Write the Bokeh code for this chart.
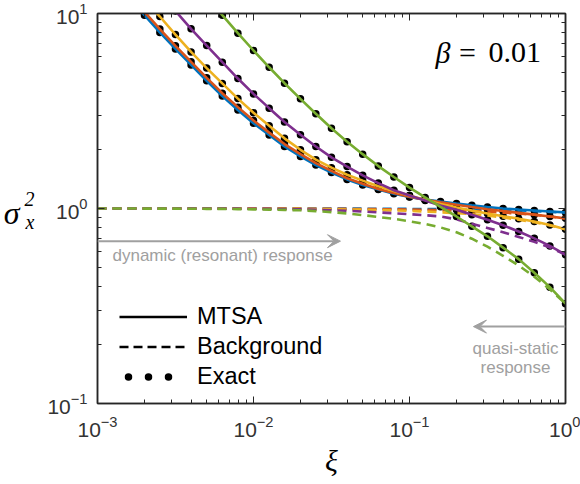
import math
from bokeh.plotting import figure
from bokeh.models import (LogAxis, LogTicker, FixedTicker, Label, Arrow, VeeHead, Legend, LegendItem,
                          CustomJSTickFormatter, LogTickFormatter, Range1d)
from bokeh.embed import file_html
from bokeh.resources import INLINE

nan = float("nan")

# damping ratio grid (log-spaced, 10 per decade)
xi = [0.001, 0.00126, 0.00158, 0.002, 0.00251, 0.00316, 0.00398, 0.00501, 0.00631, 0.00794,
      0.01, 0.0126, 0.0158, 0.02, 0.0251, 0.0316, 0.0398, 0.0501, 0.0631, 0.0794,
      0.1, 0.126, 0.158, 0.2, 0.251, 0.316, 0.398, 0.501, 0.631, 0.794, 1.0]

# MTSA / exact variance (five cases)
var_blue = [nan, nan, 12.1, 9.8, 8.0, 6.58, 5.45, 4.52, 3.77, 3.2, 2.74, 2.38, 2.08, 1.85, 1.67,
            1.53, 1.41, 1.32, 1.25, 1.19, 1.145, 1.11, 1.085, 1.06, 1.038, 1.018, 1.0, 0.988,
            0.977, 0.966, 0.955]
var_red = [nan, nan, 12.6, 10.2, 8.32, 6.83, 5.65, 4.68, 3.9, 3.31, 2.83, 2.45, 2.14, 1.9, 1.71,
           1.56, 1.43, 1.34, 1.26, 1.2, 1.15, 1.11, 1.075, 1.045, 1.017, 0.992, 0.97, 0.95,
           0.93, 0.91, 0.89]
var_yellow = [nan, nan, nan, 11.8, 9.65, 7.8, 6.35, 5.25, 4.38, 3.66, 3.1, 2.66, 2.29, 2.0, 1.78,
              1.62, 1.49, 1.39, 1.3, 1.23, 1.165, 1.105, 1.055, 1.012, 0.975, 0.942, 0.912,
              0.887, 0.858, 0.822, 0.782]
var_purple = [nan, nan, nan, nan, nan, 10.3, 8.35, 6.85, 5.63, 4.64, 3.87, 3.27, 2.78, 2.39, 2.08,
              1.83, 1.64, 1.48, 1.35, 1.24, 1.165, 1.1, 1.035, 0.985, 0.93, 0.875, 0.82, 0.762,
              0.703, 0.643, 0.58]
var_green = [nan, nan, nan, nan, nan, nan, nan, 12.2, 9.8, 7.93, 6.46, 5.3, 4.39, 3.65, 3.06,
             2.58, 2.2, 1.9, 1.65, 1.45, 1.28, 1.14, 1.02, 0.91, 0.81, 0.72, 0.63, 0.55,
             0.468, 0.395, 0.325]

# background (quasi-static) part
bg_blue = [1.0, 1.0, 1.0, 1.0, 1.0, 1.0, 1.0, 1.0, 1.0, 1.0, 1.0, 1.0, 1.0, 1.0, 1.0,
           0.999, 0.998, 0.998, 0.997, 0.996, 0.995, 0.994, 0.992, 0.99, 0.988, 0.985, 0.981,
           0.976, 0.97, 0.961, 0.952]
bg_red = [1.0, 1.0, 1.0, 1.0, 1.0, 1.0, 1.0, 1.0, 1.0, 1.0, 1.0, 0.999, 0.999, 0.998, 0.997,
          0.996, 0.995, 0.994, 0.992, 0.99, 0.988, 0.985, 0.981, 0.976, 0.97, 0.962, 0.953,
          0.942, 0.928, 0.91, 0.89]
bg_yellow = [1.0, 1.0, 1.0, 1.0, 1.0, 1.0, 1.0, 0.999, 0.999, 0.998, 0.998, 0.997, 0.996, 0.995,
             0.993, 0.991, 0.989, 0.986, 0.982, 0.977, 0.972, 0.965, 0.957, 0.947, 0.935, 0.92,
             0.9, 0.875, 0.85, 0.818, 0.782]
bg_purple = [1.0, 1.0, 1.0, 1.0, 1.0, 1.0, 1.0, 1.0, 0.999, 0.998, 0.997, 0.995, 0.993, 0.99,
             0.985, 0.98, 0.973, 0.965, 0.955, 0.945, 0.935, 0.924, 0.91, 0.88, 0.835, 0.795,
             0.756, 0.715, 0.675, 0.63, 0.58]
bg_green = [1.0, 1.0, 1.0, 0.999, 0.999, 0.998, 0.997, 0.996, 0.995, 0.993, 0.99, 0.987, 0.984,
            0.979, 0.97, 0.958, 0.943, 0.925, 0.905, 0.885, 0.86, 0.833, 0.8, 0.755, 0.7,
            0.637, 0.572, 0.51, 0.447, 0.385, 0.325]

series_var = [var_blue, var_red, var_yellow, var_purple, var_green]
series_bg = [bg_blue, bg_red, bg_yellow, bg_purple, bg_green]
colors = ["#0072BD", "#D95319", "#EDB120", "#7E2F8E", "#77AC30"]

legend_labels = ["MTSA", "Background", "Exact"]

# axis ticks
x_major = [0.001, 0.01, 0.1, 1.0]
x_minor = [0.002, 0.003, 0.004, 0.005, 0.006, 0.007, 0.008, 0.009,
           0.02, 0.03, 0.04, 0.05, 0.06, 0.07, 0.08, 0.09,
           0.2, 0.3, 0.4, 0.5, 0.6, 0.7, 0.8, 0.9]
y_major = [0.1, 1.0, 10.0]
y_minor = [0.2, 0.3, 0.4, 0.5, 0.6, 0.7, 0.8, 0.9, 2, 3, 4, 5, 6, 7, 8, 9]

# annotation anchors (data coordinates)
dyn_arrow_x = [0.001, 0.0361]
dyn_arrow_y = 0.68
qs_arrow_x = [1.0, 0.257]
qs_arrow_y = 0.248
# y-title pieces anchored at these heights (sigma, subscript x, superscript 2)
ytitle_sigma_at = [0.943]
ytitle_subsup_at = [0.848, 1.125]

AX = "#262626"
GRAY = "#a0a0a0"

p = figure(width=580, height=484, x_axis_type="log", y_axis_type="log",
           x_range=Range1d(1e-3, 1.0), y_range=Range1d(0.1, 10.0),
           output_backend="svg", toolbar_location=None,
           min_border_left=97, min_border_right=15, min_border_top=13, min_border_bottom=81)
p.xgrid.visible = False
p.ygrid.visible = False
p.background_fill_color = "white"
p.border_fill_color = "white"
p.outline_line_color = AX
p.outline_line_width = 1.5

p.xaxis[0].ticker = FixedTicker(ticks=x_major, minor_ticks=x_minor)
p.yaxis[0].ticker = FixedTicker(ticks=y_major, minor_ticks=y_minor)
for ax in [p.xaxis[0], p.yaxis[0]]:
    ax.formatter = LogTickFormatter()
    ax.axis_line_color = AX
    ax.axis_line_width = 1.5
    ax.major_tick_line_color = AX
    ax.minor_tick_line_color = AX
    ax.major_tick_in = 7
    ax.major_tick_out = 0
    ax.minor_tick_in = 4
    ax.minor_tick_out = 0
    ax.major_label_text_font = "Liberation Sans"
    ax.major_label_text_font_size = "21px"
    ax.major_label_text_color = "#333333"
p.xaxis.major_label_standoff = 12
p.yaxis.major_label_standoff = 10

p.xaxis.axis_label = "ξ"
p.xaxis.axis_label_text_font = "Liberation Serif"
p.xaxis.axis_label_text_font_style = "italic"
p.xaxis.axis_label_text_font_size = "30px"
p.xaxis.axis_label_text_color = "black"
p.xaxis.axis_label_standoff = 4

for side, tk in [("right", y_major), ("above", x_major)]:
    minors = y_minor if side == "right" else x_minor
    extra = LogAxis(ticker=FixedTicker(ticks=tk, minor_ticks=minors),
                    formatter=CustomJSTickFormatter(code="return ''"),
                    axis_line_color=AX, axis_line_width=1.5,
                    major_tick_line_color=AX, minor_tick_line_color=AX,
                    major_tick_in=7, major_tick_out=0, minor_tick_in=4, minor_tick_out=0,
                    major_label_standoff=0, major_label_text_font_size="1px")
    p.add_layout(extra, side)

# y title "sigma_x^2" built from label-only axes on the left
sub_axis = LogAxis(ticker=FixedTicker(ticks=ytitle_subsup_at, minor_ticks=[]),
                   formatter=CustomJSTickFormatter(code="return index == 0 ? 'x' : '2'"),
                   axis_line_color=None, major_tick_line_color=None, minor_tick_line_color=None,
                   major_tick_in=0, major_tick_out=0, minor_tick_in=0, minor_tick_out=0,
                   major_label_standoff=10, major_label_text_font="Liberation Serif",
                   major_label_text_font_style="italic", major_label_text_font_size="20px",
                   major_label_text_color="black")
p.add_layout(sub_axis, "left")
sig_axis = LogAxis(ticker=FixedTicker(ticks=ytitle_sigma_at, minor_ticks=[]),
                   formatter=CustomJSTickFormatter(code="return 'σ'"),
                   axis_line_color=None, major_tick_line_color=None, minor_tick_line_color=None,
                   major_tick_in=0, major_tick_out=0, minor_tick_in=0, minor_tick_out=0,
                   major_label_standoff=2, major_label_text_font="Liberation Serif",
                   major_label_text_font_style="italic", major_label_text_font_size="32px",
                   major_label_text_color="black")
p.add_layout(sig_axis, "left")

# exact dots
for v in series_var:
    p.scatter(xi, v, size=7.5, fill_color="black", line_color=None)

# MTSA (solid) and background (dashed)
for v, b, c in zip(series_var, series_bg, colors):
    p.line(xi, v, line_color=c, line_width=2.6)
    p.line(xi, b, line_color=c, line_width=2.6, line_dash="9 6")

# legend with dummy renderers
r_solid = p.line([nan], [nan], line_color="black", line_width=2.6)
r_dash = p.line([nan], [nan], line_color="black", line_width=2.6, line_dash="9 5")
r_dots = p.line([nan], [nan], line_color="black", line_width=7.5, line_cap="round",
                line_dash="0 20 0 20 0 40", line_dash_offset=71)
legend = Legend(items=[LegendItem(label=legend_labels[0], renderers=[r_solid]),
                       LegendItem(label=legend_labels[1], renderers=[r_dash]),
                       LegendItem(label=legend_labels[2], renderers=[r_dots])],
                location=(22, 13), orientation="vertical", glyph_width=68, glyph_height=21,
                label_height=21, spacing=3, padding=0, margin=0, label_standoff=10,
                label_text_font="Liberation Sans", label_text_font_size="23.5px",
                label_text_color="black", border_line_alpha=0, background_fill_alpha=0)
p.add_layout(legend)

# arrows
p.add_layout(Arrow(x_start=dyn_arrow_x[0], y_start=dyn_arrow_y, x_end=dyn_arrow_x[1], y_end=dyn_arrow_y,
                   line_color=GRAY, line_width=2,
                   end=VeeHead(size=13, fill_color=GRAY, line_color=GRAY, line_width=1)))
p.add_layout(Arrow(x_start=qs_arrow_x[0], y_start=qs_arrow_y, x_end=qs_arrow_x[1], y_end=qs_arrow_y,
                   line_color=GRAY, line_width=2,
                   end=VeeHead(size=13, fill_color=GRAY, line_color=GRAY, line_width=1)))

FL, FB = 97, 403  # frame left / bottom in canvas px


def lbl(text, cx, cy, **kw):
    p.add_layout(Label(x=cx - FL, y=FB - cy, x_units="screen", y_units="screen", text=text, **kw))


lbl("dynamic (resonant) response", 112, 255, text_font="Liberation Sans", text_font_size="17px",
    text_color=GRAY, text_baseline="alphabetic")
lbl("quasi-static", 515, 348, text_font="Liberation Sans", text_font_size="17px",
    text_color=GRAY, text_align="center", text_baseline="alphabetic")
lbl("response", 515, 367, text_font="Liberation Sans", text_font_size="17px",
    text_color=GRAY, text_align="center", text_baseline="alphabetic")

# beta annotation
lbl("β", 450, 52, text_font="Liberation Serif", text_font_style="italic", text_font_size="30px",
    text_color="black", text_align="right", text_baseline="alphabetic")
lbl("=", 467, 52, text_font="Liberation Serif", text_font_size="30px",
    text_color="black", text_align="center", text_baseline="alphabetic")
lbl("0.01", 488, 52, text_font="Liberation Serif", text_font_size="30px",
    text_color="black", text_baseline="alphabetic")

open("out.html", "w").write(file_html(p, INLINE))
